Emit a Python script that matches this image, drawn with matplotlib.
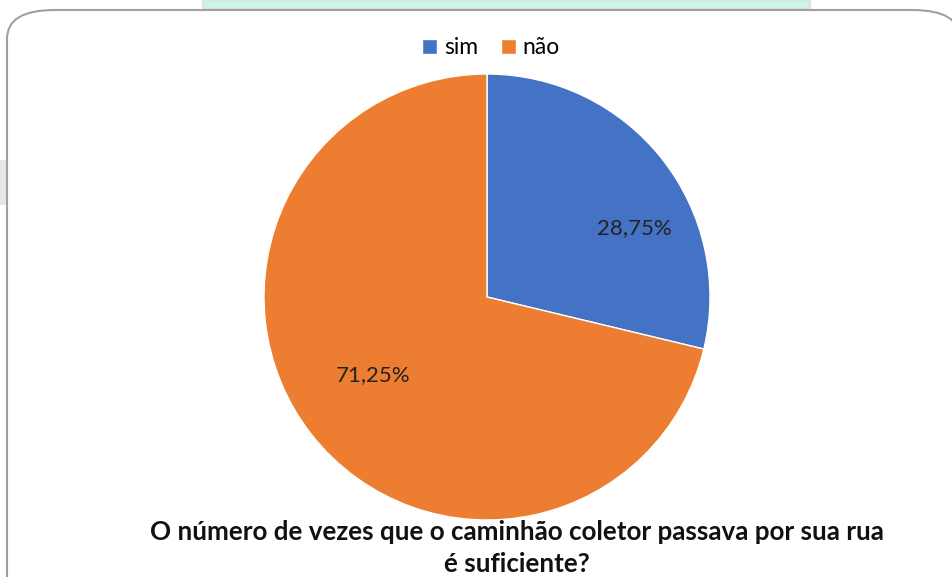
import matplotlib.pyplot as plt
from matplotlib.patches import FancyBboxPatch, Rectangle

categories = ['sim', 'não']
shares = [28.75, 71.25]
colors = ['#4472C4', '#ED7D31']
title = 'O número de vezes que o caminhão coletor passava por sua rua\né suficiente?'

plt.rcParams['font.family'] = ['Lato', 'DejaVu Sans']

W, H = 953, 577
fig = plt.figure(figsize=(W / 100, H / 100), dpi=100)
fig.patch.set_facecolor('white')

# strip of the page behind the chart box
fig.patches.append(Rectangle((203 / W, 1 - 9 / H), 607 / W, 9 / H, transform=fig.transFigure,
                             facecolor='#CCF5E4', edgecolor='#E0E0E0', lw=1.5, zorder=0))
fig.patches.append(Rectangle((0, 1 - 205 / H), 8 / W, 45 / H, transform=fig.transFigure,
                             facecolor='#E6E6E6', edgecolor='none', zorder=0))

# chart frame with rounded corners
fig.patches.append(FancyBboxPatch((7 / W, -0.05), 1.0, 1 - 10 / H + 0.05,
                                  boxstyle='round,pad=0,rounding_size=0.05',
                                  transform=fig.transFigure, facecolor='white',
                                  edgecolor='#A0A0A0', lw=1.5, zorder=1))

cx, cy, r = 487, 577 - 297, 223
ax = fig.add_axes([(cx - r) / W, (cy - r) / H, 2 * r / W, 2 * r / H])
wedges, texts, autotexts = ax.pie(shares, colors=colors, startangle=90, counterclock=False,
                                  autopct=lambda p: f'{p:.2f}%'.replace('.', ','),
                                  pctdistance=0.72,
                                  wedgeprops=dict(edgecolor='white', linewidth=1),
                                  textprops=dict(fontsize=16, color='#222222'))
autotexts[0].set_position((0.66, 0.31))
autotexts[1].set_position((-0.51, -0.35))
ax.set_xlim(-1, 1)
ax.set_ylim(-1, 1)
ax.set_zorder(2)

fig.legend(wedges, categories, loc='center', bbox_to_anchor=(491 / W, 1 - 48 / H), ncol=2,
           frameon=False, fontsize=16.5, handlelength=0.65, handleheight=0.65,
           handletextpad=0.3, columnspacing=1.0)

fig.text(517 / W, 1 - 548 / H, title, ha='center', va='center', fontsize=18.7,
         fontweight='bold', linespacing=1.38, color='#111111', zorder=3)

fig.savefig('out.png', dpi=100)
